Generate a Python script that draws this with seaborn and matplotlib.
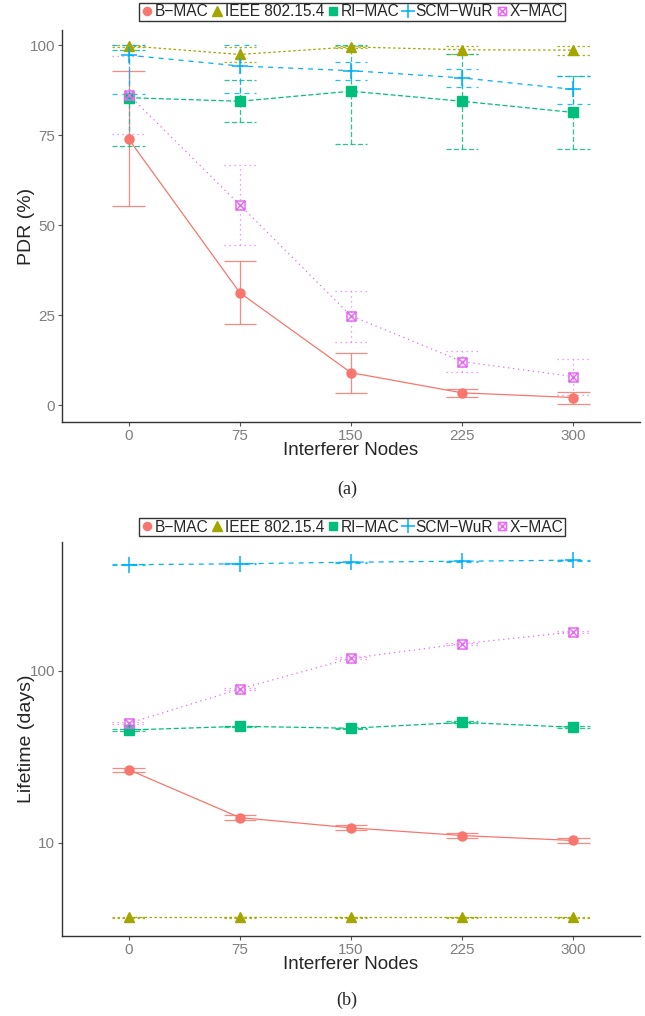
import numpy as np
import matplotlib
matplotlib.use("Agg")
import matplotlib.pyplot as plt
from matplotlib.path import Path
from matplotlib.lines import Line2D
import seaborn as sns

# ---- data ----
nodes = [0, 75, 150, 225, 300]
protocols = ["B\u2212MAC", "IEEE 802.15.4", "RI\u2212MAC", "SCM\u2212WuR", "X\u2212MAC"]

# (a) PDR (%)
pdr_bmac = [74.0, 31.3, 9.1, 3.5, 2.2]
pdr_bmac_lo = [55.5, 22.5, 3.4, 2.3, 0.5]
pdr_bmac_hi = [92.9, 40.1, 14.5, 4.6, 3.7]
pdr_ieee = [99.9, 97.5, 99.6, 98.8, 98.7]
pdr_ieee_lo = [99.5, 95.5, 99.3, 97.7, 97.4]
pdr_ieee_hi = [100.0, 99.5, 99.9, 99.9, 99.9]
pdr_rimac = [85.5, 84.5, 87.3, 84.5, 81.4]
pdr_rimac_lo = [72.2, 78.7, 72.6, 71.3, 71.2]
pdr_rimac_hi = [98.8, 90.5, 100.0, 97.7, 91.6]
pdr_scm = [97.3, 94.3, 93.0, 91.0, 87.8]
pdr_scm_lo = [86.6, 86.7, 90.5, 88.5, 83.7]
pdr_scm_hi = [100.0, 100.0, 95.4, 93.4, 91.6]
pdr_xmac = [86.3, 55.7, 24.9, 12.2, 8.0]
pdr_xmac_lo = [75.5, 44.5, 17.6, 9.2, 3.0]
pdr_xmac_hi = [97.1, 66.7, 31.9, 15.0, 13.0]

# (b) Lifetime (days)
life_bmac = [26.6, 14.0, 12.2, 11.0, 10.3]
life_bmac_lo = [25.9, 13.6, 11.8, 10.6, 9.9]
life_bmac_hi = [27.2, 14.5, 12.6, 11.4, 10.6]
life_ieee = [3.68, 3.68, 3.68, 3.68, 3.68]
life_ieee_lo = [3.65, 3.65, 3.65, 3.65, 3.65]
life_ieee_hi = [3.71, 3.71, 3.71, 3.71, 3.71]
life_rimac = [45.3, 47.6, 46.4, 50.2, 47.0]
life_rimac_lo = [44.9, 47.1, 46.0, 49.6, 46.5]
life_rimac_hi = [45.7, 48.1, 46.8, 50.8, 47.5]
life_scm = [416, 421, 430, 436, 442]
life_scm_lo = [413, 418, 427, 433, 439]
life_scm_hi = [419, 424, 433, 439, 445]
life_xmac = [49.6, 78.6, 118.6, 144.0, 169.0]
life_xmac_lo = [48.9, 77.6, 117.0, 142.2, 166.9]
life_xmac_hi = [50.3, 79.6, 120.2, 145.8, 171.1]

# ---- styles ----
colors = ["#F8766D", "#A3A500", "#00BF7D", "#00B0F6", "#E76BF3"]
linestyles = ["-", (0, (2, 2)), (0, (4, 2)), (0, (4, 4)), (0, (1, 3))]
boxx = Path([(-1, -1), (1, -1), (1, 1), (-1, 1), (-1, -1),
             (-1, -1), (1, 1), (-1, 1), (1, -1)],
            [Path.MOVETO, Path.LINETO, Path.LINETO, Path.LINETO, Path.CLOSEPOLY,
             Path.MOVETO, Path.LINETO, Path.MOVETO, Path.LINETO])
markers = ["o", "^", "s", "+", boxx]
msizes = [6.5, 7.5, 6.5, 11, 6.5]
filled = [True, True, True, False, False]

sns.set_style("white")
plt.rcParams["font.family"] = ["Liberation Sans", "DejaVu Sans"]

fig = plt.figure(figsize=(6.45, 10.16), dpi=100)
ax_a = fig.add_axes([62 / 645, 1 - 422 / 1016, 578 / 645, 392 / 1016])
ax_b = fig.add_axes([62 / 645, 1 - 936 / 1016, 578 / 645, 394 / 1016])

panel_a = [(pdr_bmac, pdr_bmac_lo, pdr_bmac_hi), (pdr_ieee, pdr_ieee_lo, pdr_ieee_hi),
           (pdr_rimac, pdr_rimac_lo, pdr_rimac_hi), (pdr_scm, pdr_scm_lo, pdr_scm_hi),
           (pdr_xmac, pdr_xmac_lo, pdr_xmac_hi)]
panel_b = [(life_bmac, life_bmac_lo, life_bmac_hi), (life_ieee, life_ieee_lo, life_ieee_hi),
           (life_rimac, life_rimac_lo, life_rimac_hi), (life_scm, life_scm_lo, life_scm_hi),
           (life_xmac, life_xmac_lo, life_xmac_hi)]

cap_half = 11  # half width of error bar caps in x units
x = np.array(nodes)

for ax, panel in [(ax_a, panel_a), (ax_b, panel_b)]:
    for i, (vals, lo, hi) in enumerate(panel):
        sns.lineplot(x=nodes, y=vals, color=colors[i], linestyle=linestyles[i],
                     linewidth=0.9, errorbar=None, ax=ax, zorder=2)
        ax.vlines(x, lo, hi, colors=colors[i], linestyles=[linestyles[i]],
                  linewidth=0.9, alpha=0.85, zorder=2)
        ax.hlines(lo, x - cap_half, x + cap_half, colors=colors[i],
                  linestyles=[linestyles[i]], linewidth=0.9, alpha=0.85, zorder=2)
        ax.hlines(hi, x - cap_half, x + cap_half, colors=colors[i],
                  linestyles=[linestyles[i]], linewidth=0.9, alpha=0.85, zorder=2)
    for i, (vals, lo, hi) in enumerate(panel):
        ax.plot(nodes, vals, linestyle="none", marker=markers[i], ms=msizes[i],
                color=colors[i], mfc=colors[i] if filled[i] else "none",
                mec=colors[i], mew=1.0 if filled[i] else 1.1, zorder=3)

    ax.set_xlim(-45, 345)
    ax.set_xticks(nodes)
    ax.set_xlabel("Interferer Nodes", fontsize=13.5, labelpad=-0.5)
    for side in ["top", "right"]:
        ax.spines[side].set_visible(False)
    for side in ["left", "bottom"]:
        ax.spines[side].set_color("#333333")
        ax.spines[side].set_linewidth(1.0)
    ax.tick_params(axis="both", which="major", length=3, width=0.8, color="#555555",
                   labelcolor="#7F7F7F", labelsize=11, pad=2, direction="out",
                   bottom=True, left=True)
    ax.tick_params(axis="y", which="minor", left=False)

ax_a.set_ylim(-4.6, 104.3)
ax_a.set_yticks([0, 25, 50, 75, 100])
ax_a.set_ylabel("PDR (%)", fontsize=14, labelpad=-4)

ax_b.set_yscale("log")
ax_b.set_ylim(2.86, 564)
ax_b.set_yticks([10, 100])
ax_b.set_yticklabels(["10", "100"])
ax_b.minorticks_off()
ax_b.set_ylabel("Lifetime (days)", fontsize=14, labelpad=-4)

handles = [Line2D([], [], linestyle="none", marker=markers[i],
                  ms=msizes[i] * 0.9, color=colors[i],
                  mfc=colors[i] if filled[i] else "none", mec=colors[i],
                  mew=1.0 if filled[i] else 1.1) for i in range(5)]

for yc in [1 - 12 / 1016, 1 - 527 / 1016]:
    leg = fig.legend(handles, protocols, loc="center", bbox_to_anchor=(352 / 645, yc),
                     ncol=5, frameon=True, fancybox=False, edgecolor="black",
                     fontsize=11.2, handlelength=0.8, handletextpad=0.1,
                     columnspacing=0.15, borderpad=0.12, borderaxespad=0)
    leg.get_frame().set_linewidth(1.0)

fig.text(347 / 645, 1 - 489 / 1016, "(a)", ha="center", va="center",
         fontsize=13, family="Liberation Serif")
fig.text(347 / 645, 1 - 1000 / 1016, "(b)", ha="center", va="center",
         fontsize=13, family="Liberation Serif")

fig.savefig("out.png", dpi=100)
